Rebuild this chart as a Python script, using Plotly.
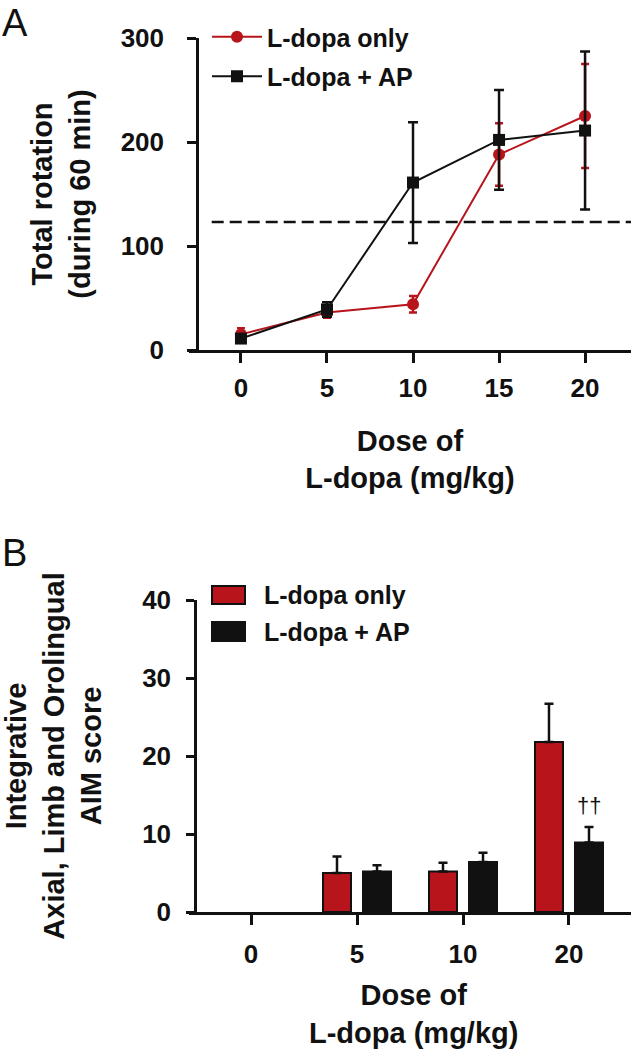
import plotly.graph_objects as go

# ---------------- Data ----------------
# Panel A: total rotation vs L-dopa dose
doses_a = [0, 5, 10, 15, 20]
rot_only = [15, 36, 44, 188, 225]
rot_only_err = [6, 5, 8, 30, 50]
rot_ap = [11, 39, 161, 202, 211]
rot_ap_err = [4, 7, 58, 48, 76]
rot_threshold = 123
xticks_a = [0, 5, 10, 15, 20]
yticks_a = [0, 100, 200, 300]

# Panel B: AIM score
doses_b = ["0", "5", "10", "20"]
aim_only = [0, 5.0, 5.2, 21.8]
aim_only_err = [0, 2.1, 1.1, 4.9]
aim_ap = [0, 5.2, 6.4, 8.9]
aim_ap_err = [0, 0.8, 1.2, 2.0]
yticks_b = [0, 10, 20, 30, 40]
sig_dose = "20"
sig_value = 13.7
sig_text = "††"

series_names = ["L-dopa only", "L-dopa + AP"]
x_title = "Dose of<br>L-dopa (mg/kg)"

RED = "#B8141C"
BLACK = "#111111"
FONT = "Arial, 'Liberation Sans', sans-serif"

W, H = 631, 1050


def px_x(p):
    return p / W


def px_y(p):
    return 1 - p / H


fig = go.Figure()

# ---------------- Panel A ----------------
fig.add_trace(go.Scatter(
    x=doses_a, y=rot_only, name=series_names[0], mode="lines+markers",
    line=dict(color=RED, width=2),
    marker=dict(symbol="circle", size=12, color=RED),
    error_y=dict(type="data", array=rot_only_err, color=RED, thickness=2.5, width=4),
    cliponaxis=False, xaxis="x", yaxis="y", legendgroup="a1",
))
fig.add_trace(go.Scatter(
    x=doses_a, y=rot_ap, name=series_names[1], mode="lines+markers",
    line=dict(color=BLACK, width=2),
    marker=dict(symbol="square", size=12, color=BLACK),
    error_y=dict(type="data", array=rot_ap_err, color=BLACK, thickness=2.5, width=5),
    cliponaxis=False, xaxis="x", yaxis="y", legendgroup="a2",
))

fig.add_shape(type="line", xref="x", yref="y", x0=-1.7, x1=22.67,
              y0=rot_threshold, y1=rot_threshold,
              line=dict(color=BLACK, width=2.5, dash="12px,6px"))

# ---------------- Panel B ----------------
# zero scores draw no bar (as in the original), the category stays on the axis
for vals, errs, col, name in [(aim_only, aim_only_err, RED, series_names[0]),
                              (aim_ap, aim_ap_err, BLACK, series_names[1])]:
    keep = [i for i, v in enumerate(vals) if v > 0]
    fig.add_trace(go.Bar(
        x=[doses_b[i] for i in keep], y=[vals[i] for i in keep], name=name,
        marker=dict(color=col, line=dict(color=BLACK, width=2)),
        error_y=dict(type="data", array=[errs[i] for i in keep], arrayminus=[0] * len(keep),
                     symmetric=False, color=BLACK, thickness=2.5, width=4.5),
        xaxis="x2", yaxis="y2", showlegend=False,
    ))

fig.add_annotation(x=doses_b.index(sig_dose), y=sig_value, xref="x2", yref="y2", text=sig_text,
                   showarrow=False, xshift=20, yanchor="middle",
                   font=dict(family=FONT, size=22, color=BLACK))

# Manual legend for panel B (bar patches)
leg_b = [(586, 604, 595, RED), (622, 641, 632, BLACK)]
for (y0, y1, yc, col), name in zip(leg_b, series_names):
    fig.add_shape(type="rect", xref="paper", yref="paper",
                  x0=px_x(212), x1=px_x(245), y0=px_y(y1), y1=px_y(y0),
                  fillcolor=col, line=dict(color=BLACK, width=2))
    fig.add_annotation(xref="paper", yref="paper", x=px_x(262), y=px_y(yc),
                       xanchor="left", yanchor="middle", text=name, showarrow=False,
                       font=dict(family=FONT, size=25, color=BLACK, weight="bold"))

# x-axis title for panel B (annotation so it is not clamped at the page edge)
titlefont = dict(family=FONT, size=29, color=BLACK, weight="bold")
fig.add_annotation(xref="paper", yref="paper", x=px_x(413), y=px_y(1014),
                   xanchor="center", yanchor="middle", text=x_title, showarrow=False,
                   font=titlefont)

# Panel labels
fig.add_annotation(xref="paper", yref="paper", x=0, y=1, xanchor="left", yanchor="top",
                   text="A", showarrow=False, font=dict(family=FONT, size=38, color=BLACK))
fig.add_annotation(xref="paper", yref="paper", x=0, y=px_y(530), xanchor="left", yanchor="top",
                   text="B", showarrow=False, font=dict(family=FONT, size=38, color=BLACK))

tickfont = dict(family=FONT, size=26, color=BLACK, weight="bold")
axis_common = dict(showline=True, linecolor=BLACK, linewidth=2.5, ticks="outside",
                   tickcolor=BLACK, tickwidth=2.5, showgrid=False, zeroline=False,
                   tickfont=tickfont, automargin=False)

fig.update_layout(
    width=W, height=H,
    margin=dict(l=0, r=0, t=0, b=0),
    paper_bgcolor="white", plot_bgcolor="white",
    barmode="group", bargap=0.245, bargroupgap=0.3,
    showlegend=True,
    legend=dict(x=px_x(207), y=px_y(14), xanchor="left", yanchor="top",
                font=dict(family=FONT, size=25, color=BLACK, weight="bold"),
                bgcolor="rgba(0,0,0,0)", tracegroupgap=4, itemwidth=50),
    xaxis=dict(domain=[px_x(189), 1], range=[-3.02, 22.67], anchor="y",
               tickvals=xticks_a, ticklen=10, ticklabelstandoff=3,
               title=dict(text=x_title, font=titlefont, standoff=29),
               **axis_common),
    yaxis=dict(domain=[px_y(350), px_y(38)], range=[0, 300], anchor="free",
               position=px_x(197), tickvals=yticks_a, ticklen=9, ticklabelstandoff=18,
               title=dict(text="Total rotation<br>(during 60 min)", font=titlefont, standoff=20),
               **axis_common),
    xaxis2=dict(domain=[px_x(189), 1], range=[-0.585, 3.585], anchor="y2",
                type="category", categoryorder="array", categoryarray=doses_b,
                tickvals=doses_b, ticklen=10, ticklabelstandoff=7,
                **axis_common),
    yaxis2=dict(domain=[px_y(912), px_y(600)], range=[0, 40], anchor="free",
                position=px_x(195), tickvals=yticks_b, ticklen=8, ticklabelstandoff=10,
                title=dict(text="Integrative<br>Axial, Limb and Orolingual<br>AIM score",
                           font=titlefont, standoff=32),
                **axis_common),
)

fig.write_html("out.html", config={"displayModeBar": False},
               post_script="document.body.style.margin='0px';document.body.style.overflow='hidden';")
